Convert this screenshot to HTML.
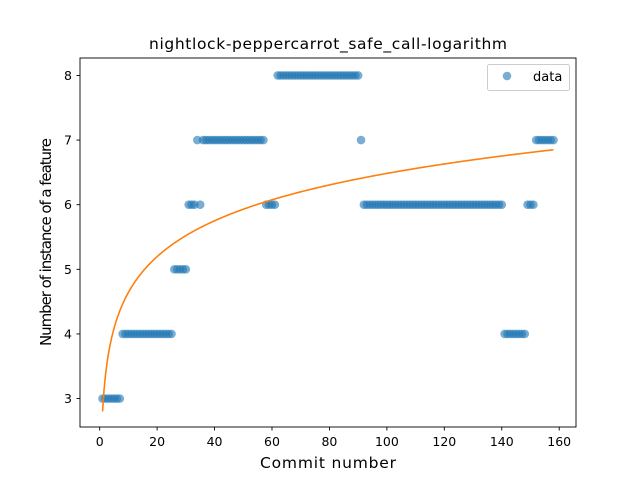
<!DOCTYPE html>
<html><head><meta charset="utf-8"><style>
body{margin:0;background:#fff}
text{font-family:"DejaVu Sans","Liberation Sans",sans-serif;fill:#000}
</style></head><body>
<svg id="chart" width="640" height="480" viewBox="0 0 640 480" xmlns="http://www.w3.org/2000/svg">
<rect width="640" height="480" fill="#fff"/>
<text x="328" y="49" font-size="15.5" text-anchor="middle" textLength="358">nightlock-peppercarrot_safe_call-logarithm</text>
<g id="grid"></g>
<g id="points"></g>
<path id="fit" fill="none" stroke="#ff7f0e" stroke-width="1.6"/>
<rect x="80" y="58" width="496" height="369" fill="none" stroke="#000" stroke-width="0.9"/>
<g id="xticks"></g>
<g id="yticks"></g>
<text x="328" y="468" font-size="15.5" text-anchor="middle" textLength="136">Commit number</text>
<text transform="translate(51,242) rotate(-90)" font-size="15" text-anchor="middle" textLength="208">Number of instance of a feature</text>
<g>
<rect x="487.5" y="64.5" width="82" height="26" rx="2" fill="#fff" stroke="#ccc"/>
<circle cx="507" cy="76" r="4.3" fill="#1f77b4" fill-opacity="0.6"/>
<text x="533" y="81" font-size="13">data</text>
</g>
</svg>
<script>
const yValues = [
3,3,3,3,3,3,3,
4,4,4,4,4,4,4,4,4,4,4,4,4,4,4,4,4,4,
5,5,5,5,5,
6,6,6,7,6,
7,7,7,7,7,7,7,7,7,7,7,7,7,7,7,7,7,7,7,7,7,7,
6,6,6,6,
8,8,8,8,8,8,8,8,8,8,8,8,8,8,8,8,8,8,8,8,8,8,8,8,8,8,8,8,8,
7,
6,6,6,6,6,6,6,6,6,6,6,6,6,6,6,6,6,6,6,6,6,6,6,6,6,6,6,6,6,6,6,6,6,6,6,6,6,6,6,6,6,6,6,6,6,6,6,6,6,
4,4,4,4,4,4,4,4,
6,6,6,
7,7,7,7,7,7,7
];
const xTicks = [0,20,40,60,80,100,120,140,160];
const yTicks = [3,4,5,6,7,8];
const fitA = 2.8;
const fitB = 0.80;

const NS="http://www.w3.org/2000/svg";
const X0=-6.85, X1=165.85, Y0=2.56, Y1=8.27;
function sx(v){return 80+(v-X0)/(X1-X0)*496;}
function sy(v){return 427-(v-Y0)/(Y1-Y0)*369;}

const pts=document.getElementById('points');
yValues.forEach((y,i)=>{
  const c=document.createElementNS(NS,'circle');
  c.setAttribute('cx',sx(i+1));c.setAttribute('cy',sy(y));c.setAttribute('r',4.3);
  c.setAttribute('fill','#1f77b4');c.setAttribute('fill-opacity','0.6');
  
  
  pts.appendChild(c);
});
let d='';
const n=yValues.length;
for(let k=0;k<=300;k++){
  const x=1+(n-1)*k/300;
  d+=(k?'L':'M')+sx(x).toFixed(2)+','+sy(fitA+fitB*Math.log(x)).toFixed(2);
}
document.getElementById('fit').setAttribute('d',d);

const xg=document.getElementById('xticks');
xTicks.forEach(t=>{
  const l=document.createElementNS(NS,'line');
  l.setAttribute('x1',sx(t));l.setAttribute('x2',sx(t));l.setAttribute('y1',427);l.setAttribute('y2',430.5);
  l.setAttribute('stroke','#000');l.setAttribute('stroke-width','0.9');
  
  
  xg.appendChild(l);
  const tx=document.createElementNS(NS,'text');
  tx.setAttribute('x',sx(t));tx.setAttribute('y',446);tx.setAttribute('font-size','12.5');tx.setAttribute('text-anchor','middle');
  tx.textContent=t;
  
  
  xg.appendChild(tx);
});
const yg=document.getElementById('yticks');
yTicks.forEach(t=>{
  const l=document.createElementNS(NS,'line');
  l.setAttribute('x1',76.5);l.setAttribute('x2',80);l.setAttribute('y1',sy(t));l.setAttribute('y2',sy(t));
  l.setAttribute('stroke','#000');l.setAttribute('stroke-width','0.9');
  
  
  yg.appendChild(l);
  const tx=document.createElementNS(NS,'text');
  tx.setAttribute('x',72);tx.setAttribute('y',sy(t)+4.5);tx.setAttribute('font-size','12.5');tx.setAttribute('text-anchor','end');
  tx.textContent=t;
  
  
  yg.appendChild(tx);
});
</script>
</body></html>
